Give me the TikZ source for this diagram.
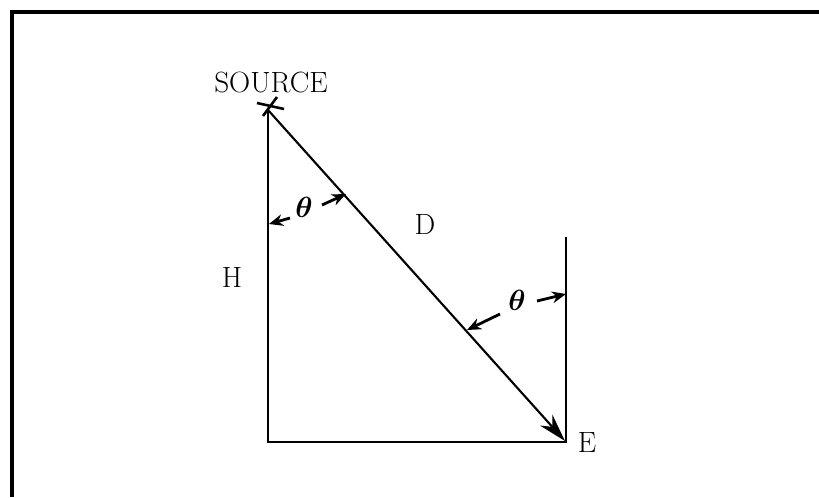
\documentclass[tikz,border=0pt]{standalone}
\usepackage{bm}
\usetikzlibrary{arrows.meta}
\begin{document}
\begin{tikzpicture}[x=0.03cm, y=-0.03cm, line width=1.8pt,
    every node/.style={font=\fontsize{25}{28}\selectfont, inner sep=0pt},
    thetaarrow/.style={line width=2.4pt, -{Stealth[length=12pt,width=10pt]}}]
            \useasboundingbox (0,0) rectangle (819,497);
            % Frame
            \draw[line width=3.5pt] (12,497) -- (12,12) -- (819,12);
            % Corners
            \coordinate (S) at (268,110);
            \coordinate (B) at (268,442);
            \coordinate (E) at (566,442);
            \coordinate (T) at (566,237);
            % Labels
            \node (source) at (271,82) {SOURCE};
            \node (h) at (232,277) {H};
            \node (d) at (425,224) {D};
            \node (e) at (587,443) {E};
            \node (th1) at (304,207) {$\bm{\theta}$};
            \node (th2) at (517,300) {$\bm{\theta}$};
            % Source mark
            \draw[line width=2.2pt] (257,103) -- (284,109);
            \draw[line width=2.2pt] (263,116) -- (277,97);
            % Edges
            \draw (S) -- (B) -- (E) -- (T);
            \draw[-{Stealth[length=24pt,width=14pt]}] (S) -- (565,441);
            % Angle arrows
            \coordinate (a1) at (290,218);
            \coordinate (a2) at (269,224);
            \coordinate (a3) at (322,205);
            \coordinate (a4) at (346,194);
            \coordinate (b1) at (500,314);
            \coordinate (b2) at (467,330);
            \coordinate (b3) at (537,301);
            \coordinate (b4) at (566,294);
            \draw[thetaarrow] (a1) -- (a2);
            \draw[thetaarrow] (a3) -- (a4);
            \draw[thetaarrow] (b1) -- (b2);
            \draw[thetaarrow] (b3) -- (b4);
          \end{tikzpicture}
\end{document}
